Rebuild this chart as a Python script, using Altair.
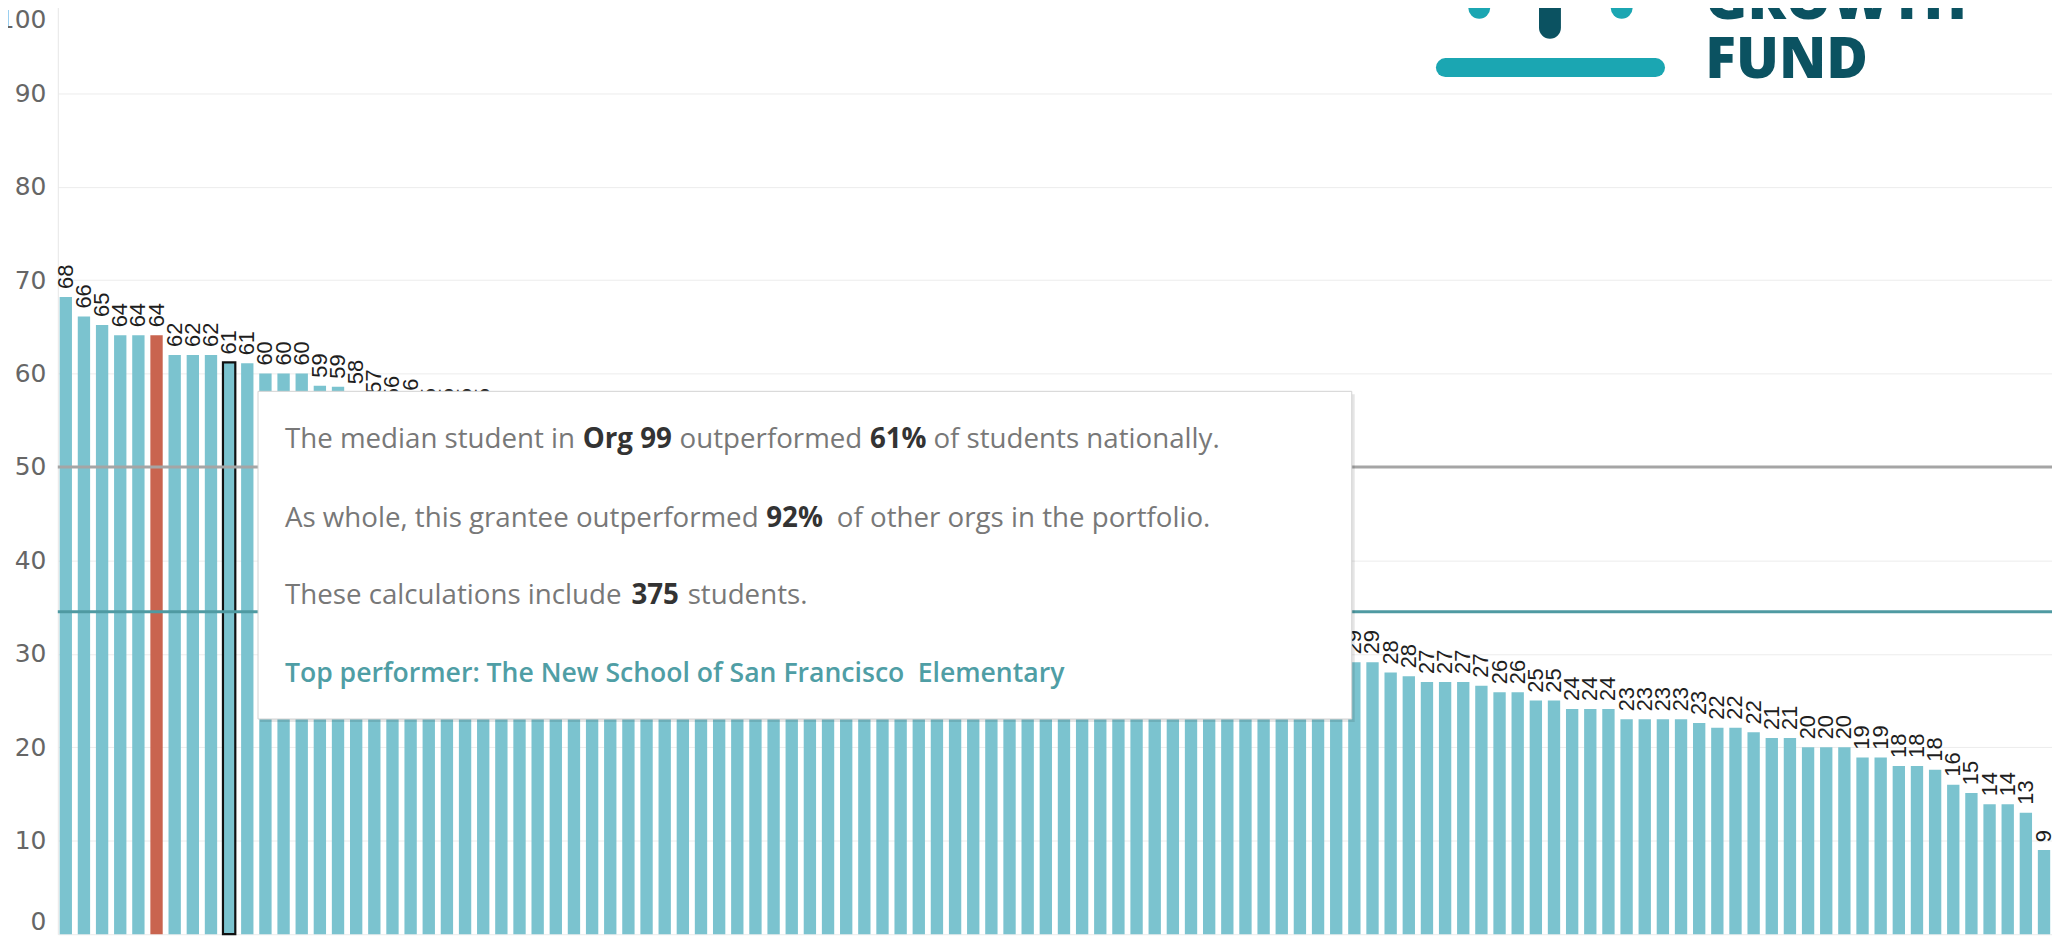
import altair as alt
import pandas as pd

# ---------------- data ----------------
ranks = list(range(1, 111))
scores = [
    68.2, 66.1, 65.2, 64.1, 64.1, 64.1, 62.0, 62.0, 62.0, 61.2,
    61.1, 60.0, 60.0, 60.0, 58.7, 58.6, 58.0, 57.0, 56.3, 56.0,
    55.0, 55.0, 55.0, 55.0, 54.0, 54.0, 53.0, 53.0, 52.0, 52.0,
    51.0, 50.0, 50.0, 49.0, 49.0, 48.0, 47.0, 47.0, 46.0, 45.0,
    45.0, 44.0, 44.0, 43.0, 42.0, 42.0, 41.0, 41.0, 40.0, 40.0,
    39.0, 38.0, 38.0, 37.0, 37.0, 36.0, 36.0, 35.0, 35.0, 34.0,
    34.0, 33.0, 33.0, 32.0, 32.0, 31.0, 31.0, 30.0, 30.0, 29.5,
    29.2, 29.1, 29.1, 28.0, 27.6, 27.0, 27.0, 27.0, 26.6, 25.9,
    25.9, 25.0, 25.0, 24.1, 24.1, 24.1, 23.0, 23.0, 23.0, 23.0,
    22.6, 22.1, 22.1, 21.6, 21.0, 21.0, 20.0, 20.0, 20.0, 18.9,
    18.9, 18.0, 18.0, 17.6, 16.0, 15.1, 13.9, 13.9, 13.0, 9.0,
]
red_rank = 6
selected_rank = 10
national_median = 50
portfolio_median = 34.5
y_ticks = [0, 10, 20, 30, 40, 50, 60, 70, 80, 90, 100]

tooltip_lines = [
    [("The median student in", "normal", 1), ("Org 99", "bold", 1), ("outperformed", "normal", 1),
     ("61%", "bold", 1), ("of students nationally.", "normal", 0)],
    [("As whole, this grantee outperformed", "normal", 1), ("92%", "bold", 2),
     ("of other orgs in the portfolio.", "normal", 0)],
    [("These calculations include", "normal", 1), ("375", "bold", 1), ("students.", "normal", 0)],
    [("Top performer: The New School of San Francisco", "link", 2), ("Elementary", "link", 0)],
]

status = ["red" if r == red_rank else "base" for r in ranks]
df = pd.DataFrame({"rank": ranks, "score": scores, "status": status})
one = pd.DataFrame({"k": [0]})

TEAL = "#7bc3cf"
RED = "#c9644f"
GRAY_TXT = "#787878"
DARK_TXT = "#333333"
LINK = "#4f9ea5"

W, H = 2002, 928

x_enc = alt.X("rank:O", axis=None,
              scale=alt.Scale(paddingInner=0.32, paddingOuter=0.1))
y_scale = alt.Scale(domain=[0, 100], nice=False, zero=True, range=[H, -10])
y_axis = alt.Axis(values=y_ticks, ticks=False, domain=True, domainColor="#e6e6e6",
                  grid=True, gridColor="#ececec", labelFont="DejaVu Sans",
                  labelFontSize=25, labelColor="#666666", labelPadding=12,
                  labelFlush=True,
                  labelOffset={"condition": {"test": "datum.value === 100", "value": 8}, "value": 0},
                  title=None)
y_enc = alt.Y("score:Q", scale=y_scale, axis=y_axis, title=None)

bars = alt.Chart(df).mark_bar().encode(
    x=x_enc, y=y_enc,
    color=alt.Color("status:N", scale=alt.Scale(domain=["base", "red"], range=[TEAL, RED]),
                    legend=None),
)
sel = alt.Chart(df).transform_filter(alt.datum.rank == selected_rank).mark_bar(
    fill=TEAL, stroke="#111111", strokeWidth=2.2).encode(x=x_enc, y=y_enc)

labels = alt.Chart(df).mark_text(
    angle=270, align="left", baseline="middle", dx=8,
    font="Liberation Sans", fontSize=22, color="#1e1e1e",
).encode(x=x_enc, y=y_enc, text=alt.Text("score:Q", format=".0f"))

nat = alt.Chart(pd.DataFrame({"v": [national_median]})).mark_rule(
    color="#a5a5a5", strokeWidth=3).encode(
    y=alt.Y("v:Q", scale=y_scale, axis=y_axis, title=None))
port = alt.Chart(pd.DataFrame({"v": [portfolio_median]})).mark_rule(
    color="#4f9aa2", strokeWidth=3).encode(
    y=alt.Y("v:Q", scale=y_scale, axis=y_axis, title=None))

layers = [bars, sel, labels, nat, port]

# ---------- tooltip box ----------
shadow = alt.Chart(one).mark_rect(fill="#000000", opacity=0.10).encode(
    x=alt.value(203), x2=alt.value(1302), y=alt.value(386), y2=alt.value(715))
box = alt.Chart(one).mark_rect(fill="#ffffff", stroke="#d2d2d2", strokeWidth=1).encode(
    x=alt.value(201), x2=alt.value(1299), y=alt.value(383), y2=alt.value(712))
layers += [shadow, box]

# approximate Open Sans advance widths (em) used to chain the mixed-weight segments
EM = {' ': .26, 'a': .556, 'b': .613, 'c': .502, 'd': .613, 'e': .561, 'f': .343, 'g': .548,
      'h': .614, 'i': .258, 'l': .258, 'm': .932, 'n': .614, 'o': .604, 'p': .613, 'r': .408,
      's': .477, 't': .353, 'u': .614, 'v': .504, 'w': .772, 'y': .504, 'T': .551, 'A': .635,
      'O': .781, 'S': .56, 'N': .77, 'E': .539, 'F': .507, '.': .266, ',': .243, ':': .266,
      '%': .828}
STYLE = {
    "normal": dict(weight="normal", color=GRAY_TXT, size=27.8, factor=1.0),
    "bold": dict(weight="bold", color=DARK_TXT, size=27.8, factor=1.03),
    "link": dict(weight=600, color=LINK, size=26.7, factor=1.022),
}


def seg_width(s, st):
    return sum(EM.get(c, .572) for c in s) * st["size"] * st["factor"]


x0 = 228
baselines = [440, 519, 597, 675]
for line, by in zip(tooltip_lines, baselines):
    cx = x0
    for txt, kind, gaps in line:
        st = STYLE[kind]
        layers.append(alt.Chart(one).mark_text(
            text=txt, align="left", baseline="alphabetic", font="Open Sans",
            fontSize=st["size"], fontWeight=st["weight"], color=st["color"],
        ).encode(x=alt.value(round(cx, 1)), y=alt.value(by)))
        cx += seg_width(txt, st) + gaps * 0.26 * st["size"]

# ---------- logo ----------
LOGO_DARK = "#0b5261"
LOGO_TEAL = "#1ba6b2"
layers.append(alt.Chart(one).mark_rule(strokeWidth=19, strokeCap="round", color=LOGO_TEAL).encode(
    x=alt.value(1393), x2=alt.value(1604), y=alt.value(58)))
layers.append(alt.Chart(one).mark_rule(strokeWidth=22, strokeCap="round", color=LOGO_DARK).encode(
    x=alt.value(1498), y=alt.value(-30), y2=alt.value(18)))
layers.append(alt.Chart(one).mark_rule(strokeWidth=22, strokeCap="round", color=LOGO_TEAL).encode(
    x=alt.value(1427), y=alt.value(-30), y2=alt.value(-2)))
layers.append(alt.Chart(one).mark_rule(strokeWidth=22, strokeCap="round", color=LOGO_TEAL).encode(
    x=alt.value(1570), y=alt.value(-30), y2=alt.value(-2)))
layers.append(alt.Chart(one).mark_text(
    text="GROWTH", align="left", baseline="alphabetic", font="Open Sans",
    fontSize=57, fontWeight=800, color=LOGO_DARK).encode(x=alt.value(1654), y=alt.value(9)))
layers.append(alt.Chart(one).mark_text(
    text="FUND", align="left", baseline="alphabetic", font="Open Sans",
    fontSize=57, fontWeight=800, color=LOGO_DARK).encode(x=alt.value(1654), y=alt.value(68)))

chart = alt.layer(*layers).properties(
    width=W, height=H,
    autosize=alt.AutoSizeParams(type="none"),
    padding={"left": 50, "top": 0, "right": 0, "bottom": 0},
).configure_view(strokeWidth=0)

chart.save("out.html", embed_options={"renderer": "svg", "actions": False})
